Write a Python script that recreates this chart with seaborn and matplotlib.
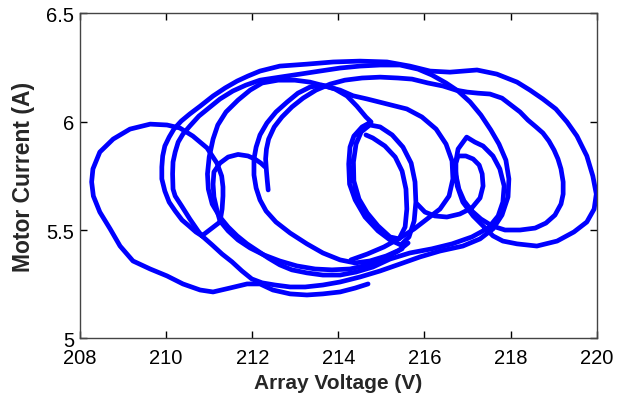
import numpy as np
import pandas as pd
import matplotlib
matplotlib.use("Agg")
import matplotlib.pyplot as plt
import seaborn as sns

# ---- axis ticks ----
x_ticks = [208, 210, 212, 214, 216, 218, 220]
y_ticks = [5.0, 5.5, 6.0, 6.5]
y_tick_labels = ["5", "5.5", "6", "6.5"]

# ---- trajectory segments (Array Voltage V, Motor Current A) ----
# left loop and lowest bottom trace
seg1_v = [211.25, 211.30, 211.32, 211.32, 211.29, 211.18, 210.95, 210.62, 210.32, 210.02,
          209.63, 209.16, 208.77, 208.46, 208.30, 208.27, 208.31, 208.46, 208.70, 208.93,
          209.23, 209.63, 210.02, 210.39, 210.79, 211.09, 211.48, 211.88, 212.18, 212.48,
          212.88, 213.27, 213.64, 214.04, 214.39, 214.69]
seg1_i = [5.537, 5.597, 5.657, 5.699, 5.749, 5.809, 5.879, 5.934, 5.971, 5.985,
          5.989, 5.966, 5.920, 5.860, 5.782, 5.722, 5.657, 5.583, 5.505, 5.426,
          5.357, 5.320, 5.288, 5.251, 5.223, 5.214, 5.232, 5.251, 5.251, 5.223,
          5.205, 5.200, 5.205, 5.214, 5.232, 5.251]

# connector, dotted descent, bottom trace, right rise, top and second left arc
seg2_v = [211.25, 211.04, 210.83, 211.07, 211.30, 211.53, 211.76, 211.99, 212.23, 212.53,
          212.88, 213.23, 213.64, 214.04, 214.50, 214.97, 215.43, 215.90, 216.36, 216.89,
          217.29, 217.59, 217.80, 217.94, 217.96, 217.89, 217.73, 217.54, 217.31, 217.06,
          216.78, 216.50, 216.17, 215.85, 215.43, 214.97, 214.50, 214.04, 213.57, 213.11,
          212.64, 212.18, 211.85, 211.55, 211.25, 211.02, 210.76, 210.55, 210.39, 210.28,
          210.21, 210.16, 210.15, 210.16, 210.21, 210.36, 210.55, 210.74, 210.83]
seg2_i = [5.537, 5.505, 5.473, 5.431, 5.389, 5.353, 5.311, 5.274, 5.256, 5.246,
          5.237, 5.237, 5.246, 5.260, 5.283, 5.311, 5.343, 5.376, 5.403, 5.426,
          5.459, 5.505, 5.569, 5.653, 5.736, 5.823, 5.897, 5.962, 6.031, 6.091,
          6.142, 6.179, 6.216, 6.243, 6.262, 6.262, 6.257, 6.248, 6.234, 6.220,
          6.206, 6.192, 6.169, 6.142, 6.105, 6.068, 6.026, 5.980, 5.943, 5.906,
          5.860, 5.814, 5.759, 5.689, 5.657, 5.611, 5.551, 5.496, 5.473]

# outer left arc, top, outer right loop, kinked loop, return arc, central big loop
seg3_v = [210.83, 210.69, 210.53, 210.37, 210.21, 210.07, 209.97, 209.90, 209.90, 209.92,
          209.97, 210.07, 210.18, 210.35, 210.55, 210.79, 211.09, 211.37, 211.65, 211.90,
          212.18, 212.64, 213.27, 213.88, 214.50, 215.13, 215.66, 216.13, 216.59, 217.22,
          217.68, 218.15, 218.45, 218.75, 219.05, 219.31, 219.54, 219.77, 219.91, 219.99,
          219.94, 219.77, 219.47, 219.08, 218.61, 218.15, 217.82, 217.59, 217.36, 217.13,
          216.89, 216.76, 216.71, 216.78, 216.98, 217.17, 217.36, 217.59, 217.75, 217.85,
          217.82, 217.71, 217.48, 217.10, 216.64, 216.17, 215.66, 215.20, 214.80, 214.41,
          214.04, 213.64, 213.27, 212.92, 212.64, 212.37, 212.13, 211.88, 211.65, 211.44,
          211.25, 211.07, 210.98, 210.96, 211.00, 211.09, 211.20, 211.39, 211.67, 211.95,
          212.23, 212.60, 212.99, 213.34, 213.69, 214.04, 214.34, 214.67, 215.13, 215.59,
          215.94, 216.27, 216.50, 216.64, 216.66, 216.57, 216.36, 216.06, 215.76, 215.43,
          215.06, 214.67, 214.29]
seg3_i = [5.473, 5.491, 5.519, 5.546, 5.588, 5.629, 5.680, 5.736, 5.791, 5.842,
          5.888, 5.929, 5.966, 6.003, 6.036, 6.072, 6.119, 6.156, 6.188, 6.211,
          6.234, 6.257, 6.266, 6.276, 6.280, 6.276, 6.257, 6.234, 6.229, 6.239,
          6.220, 6.183, 6.146, 6.105, 6.059, 5.999, 5.934, 5.842, 5.749, 5.666,
          5.597, 5.537, 5.491, 5.449, 5.426, 5.436, 5.449, 5.473, 5.519, 5.565,
          5.629, 5.703, 5.796, 5.874, 5.929, 5.906, 5.888, 5.842, 5.782, 5.703,
          5.629, 5.565, 5.509, 5.468, 5.436, 5.413, 5.394, 5.366, 5.329, 5.306,
          5.292, 5.292, 5.302, 5.316, 5.339, 5.371, 5.403, 5.436, 5.473, 5.514,
          5.560, 5.620, 5.689, 5.759, 5.837, 5.920, 5.985, 6.045, 6.100, 6.146,
          6.179, 6.192, 6.192, 6.183, 6.165, 6.146, 6.120, 6.105, 6.082, 6.059,
          6.022, 5.966, 5.897, 5.819, 5.736, 5.657, 5.597, 5.551, 5.505, 5.463,
          5.422, 5.389, 5.362]

# hook, inner arc, top, second right loop, small inner right loop
seg4_v = [212.37, 212.35, 212.33, 212.31, 212.33, 212.38, 212.51, 212.69, 212.92, 213.18,
          213.48, 213.81, 214.15, 214.55, 214.97, 215.38, 215.71, 216.08, 216.43, 216.73,
          216.99, 217.24, 217.52, 217.80, 218.01, 218.22, 218.40, 218.59, 218.75, 218.89,
          219.01, 219.10, 219.17, 219.22, 219.22, 219.17, 219.03, 218.82, 218.57, 218.22,
          217.87, 217.57, 217.31, 217.10, 216.92, 216.80, 216.73, 216.73, 216.78, 216.96,
          217.13, 217.27, 217.34, 217.36, 217.29, 217.10, 216.82, 216.52, 216.24, 216.01,
          215.83]
seg4_i = [5.685, 5.726, 5.772, 5.828, 5.874, 5.920, 5.976, 6.022, 6.068, 6.109,
          6.146, 6.174, 6.192, 6.202, 6.206, 6.202, 6.197, 6.179, 6.165, 6.146,
          6.137, 6.132, 6.128, 6.109, 6.077, 6.045, 6.008, 5.976, 5.948, 5.911,
          5.869, 5.828, 5.782, 5.722, 5.666, 5.620, 5.569, 5.532, 5.509, 5.500,
          5.500, 5.519, 5.551, 5.588, 5.634, 5.689, 5.754, 5.809, 5.842, 5.842,
          5.828, 5.800, 5.759, 5.703, 5.648, 5.602, 5.574, 5.560, 5.565, 5.583,
          5.620]

# inner-left big arc, dotted descent and the two central ovals
seg5_v = [215.48, 215.11, 214.73, 214.39, 214.04, 213.64, 213.27, 212.88, 212.55, 212.32,
          212.18, 212.09, 212.04, 212.04, 212.09, 212.18, 212.34, 212.55, 212.81, 213.06,
          213.34, 213.62, 213.92, 214.20, 214.43, 214.64, 214.76, 214.55, 214.36, 214.27,
          214.24, 214.26, 214.39, 214.62, 214.92, 215.20, 215.45, 215.64, 215.76, 215.80,
          215.78, 215.69, 215.50, 215.25, 214.97, 214.73, 214.53, 214.41, 214.35, 214.36,
          214.48, 214.67, 214.92, 215.20, 215.41, 215.55, 215.59, 215.57, 215.48, 215.32,
          215.08, 214.80, 214.64]
seg5_i = [5.413, 5.380, 5.357, 5.348, 5.362, 5.394, 5.436, 5.486, 5.537, 5.588,
          5.639, 5.694, 5.754, 5.828, 5.883, 5.939, 5.994, 6.045, 6.091, 6.132,
          6.160, 6.169, 6.151, 6.119, 6.072, 6.022, 5.999, 5.976, 5.934, 5.883,
          5.805, 5.712, 5.639, 5.560, 5.496, 5.454, 5.431, 5.468, 5.542, 5.629,
          5.722, 5.809, 5.883, 5.939, 5.976, 5.985, 5.953, 5.897, 5.814, 5.726,
          5.643, 5.579, 5.519, 5.468, 5.459, 5.514, 5.597, 5.689, 5.772, 5.837,
          5.888, 5.925, 5.939]

# small loop near the hook
seg6_v = [212.30, 212.20, 212.06, 211.90, 211.67, 211.44, 211.25, 211.11, 211.09, 211.11,
          211.18, 211.25, 211.44, 211.67, 211.95, 212.27, 212.64, 213.04, 213.46, 213.85,
          214.27, 214.69, 215.08, 215.39, 215.62]
seg6_i = [5.791, 5.809, 5.828, 5.842, 5.849, 5.837, 5.809, 5.768, 5.712, 5.653,
          5.592, 5.542, 5.496, 5.454, 5.417, 5.385, 5.357, 5.334, 5.320, 5.316,
          5.320, 5.339, 5.371, 5.403, 5.440]

segments = [(seg1_v, seg1_i), (seg2_v, seg2_i), (seg3_v, seg3_i),
            (seg4_v, seg4_i), (seg5_v, seg5_i), (seg6_v, seg6_i)]

frames = []
for k, (v, i) in enumerate(segments):
    frames.append(pd.DataFrame({"V": v, "I": i, "seg": k}))
df = pd.concat(frames, ignore_index=True)

sns.set_style("ticks")
plt.rcParams["font.family"] = ["Liberation Sans", "DejaVu Sans"]

fig = plt.figure(figsize=(6.29, 4.02), dpi=100)
ax = fig.add_axes([0.1272, 0.156, 0.8215, 0.808])

sns.lineplot(data=df, x="V", y="I", units="seg", estimator=None, sort=False,
             color="#0000ff", linewidth=3.4, ax=ax, legend=False,
             solid_joinstyle="round", solid_capstyle="round")

ax.set_xlim(208, 220)
ax.set_ylim(5, 6.5)
ax.set_xticks(x_ticks)
ax.set_yticks(y_ticks)
ax.set_yticklabels(y_tick_labels)
ax.tick_params(direction="in", top=True, right=True, length=5, width=1,
               labelsize=14.5, colors="black")
ax.tick_params(axis="x", pad=7)
ax.tick_params(axis="y", pad=4)
for s in ax.spines.values():
    s.set_color("#444444")
    s.set_linewidth(1.0)

ax.set_xlabel("Array Voltage (V)", fontsize=15, fontweight="bold", labelpad=4)
ax.set_ylabel("Motor Current (A)", fontsize=16.5, fontweight="bold", labelpad=8)

fig.savefig("out.png", dpi=100)
